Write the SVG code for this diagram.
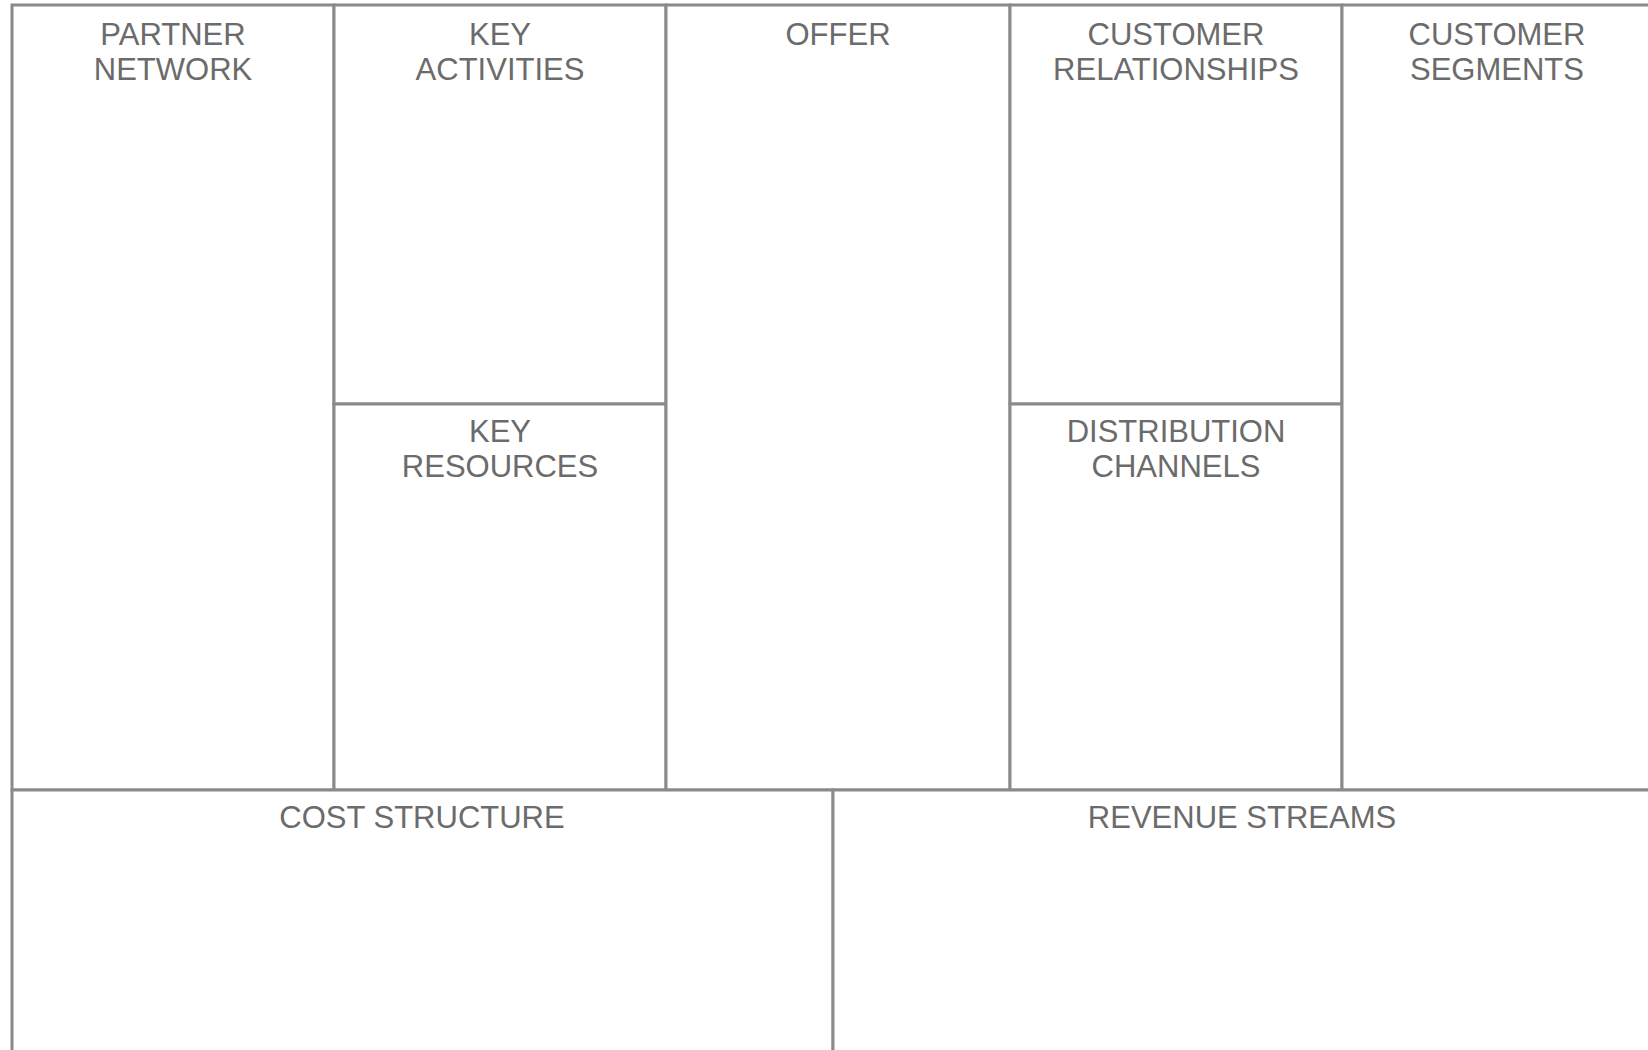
<svg xmlns="http://www.w3.org/2000/svg" width="1648" height="1050" viewBox="0 0 1648 1050">
  <style>
    .cell { fill: #ffffff; stroke: #8a8a8a; stroke-width: 3; }
    .label { font-family: "Liberation Sans", Arial, sans-serif; font-size: 31px; fill: #6b6b6b; text-anchor: middle; }
  </style>
  <rect x="0" y="0" width="1648" height="1050" fill="#ffffff"/>

  <!-- Top band: seven canvas blocks -->
  <g id="partner-network">
    <rect class="cell" x="12" y="5" width="322" height="785"/>
    <text class="label" x="173" y="45">PARTNER</text>
    <text class="label" x="173" y="80">NETWORK</text>
  </g>
  <g id="key-activities">
    <rect class="cell" x="334" y="5" width="332" height="399"/>
    <text class="label" x="500" y="45">KEY</text>
    <text class="label" x="500" y="80">ACTIVITIES</text>
  </g>
  <g id="key-resources">
    <rect class="cell" x="334" y="404" width="332" height="386"/>
    <text class="label" x="500" y="442">KEY</text>
    <text class="label" x="500" y="477">RESOURCES</text>
  </g>
  <g id="offer">
    <rect class="cell" x="666" y="5" width="344" height="785"/>
    <text class="label" x="838" y="45">OFFER</text>
  </g>
  <g id="customer-relationships">
    <rect class="cell" x="1010" y="5" width="332" height="399"/>
    <text class="label" x="1176" y="45">CUSTOMER</text>
    <text class="label" x="1176" y="80">RELATIONSHIPS</text>
  </g>
  <g id="distribution-channels">
    <rect class="cell" x="1010" y="404" width="332" height="386"/>
    <text class="label" x="1176" y="442">DISTRIBUTION</text>
    <text class="label" x="1176" y="477">CHANNELS</text>
  </g>
  <g id="customer-segments">
    <rect class="cell" x="1342" y="5" width="312" height="785"/>
    <text class="label" x="1497" y="45">CUSTOMER</text>
    <text class="label" x="1497" y="80">SEGMENTS</text>
  </g>

  <!-- Bottom band -->
  <g id="cost-structure">
    <rect class="cell" x="12" y="790" width="821" height="266"/>
    <text class="label" x="422" y="828">COST STRUCTURE</text>
  </g>
  <g id="revenue-streams">
    <rect class="cell" x="833" y="790" width="821" height="266"/>
    <text class="label" x="1242" y="828">REVENUE STREAMS</text>
  </g>

  <g id="connectors"></g>
</svg>
